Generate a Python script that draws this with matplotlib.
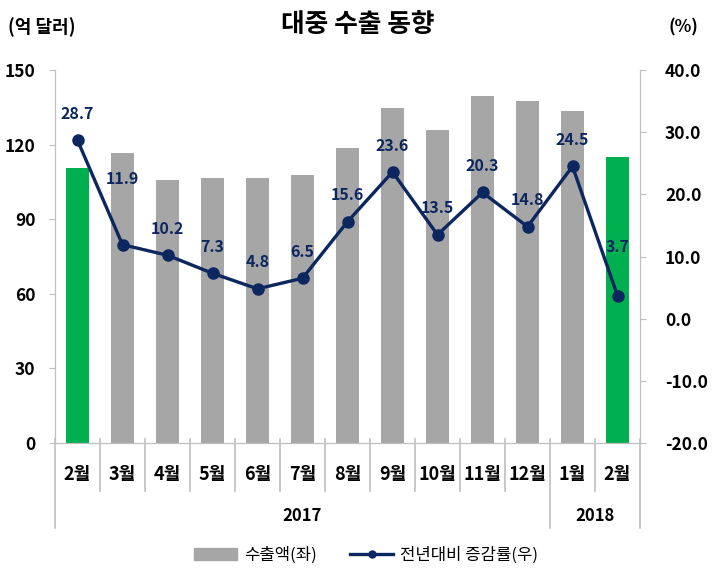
import numpy as np
import matplotlib
matplotlib.use("Agg")
import matplotlib.pyplot as plt
from matplotlib.lines import Line2D
from matplotlib.patches import Patch

plt.rcParams["font.family"] = ["Noto Sans CJK KR", "DejaVu Sans"]

# data
months = ["2월", "3월", "4월", "5월", "6월", "7월", "8월", "9월", "10월", "11월", "12월", "1월", "2월"]
exports = [110.6, 116.6, 105.8, 106.5, 106.5, 107.8, 118.6, 134.7, 125.9, 139.5, 137.5, 133.5, 115.0]
growth = [28.7, 11.9, 10.2, 7.3, 4.8, 6.5, 15.6, 23.6, 13.5, 20.3, 14.8, 24.5, 3.7]
years = ["2017", "2018"]
year_spans = [(0, 10), (11, 12)]
highlight = [0, 12]

GRAY = "#A6A6A6"
GREEN = "#00B050"
NAVY = "#0C2660"
AXC = "#BFBFBF"

fig = plt.figure(figsize=(7.14, 5.82), dpi=100)
ax = fig.add_axes([55 / 714, 139 / 582, 585 / 714, 373 / 582])
x = np.arange(len(months))
colors = [GREEN if i in highlight else GRAY for i in x]
ax.bar(x, exports, width=0.5, color=colors, zorder=2)
ax.set_xlim(-0.5, len(months) - 0.5)
ax.set_ylim(0, 150)
ax.set_yticks([0, 30, 60, 90, 120, 150])
ax.set_xticks([])

ax2 = ax.twinx()
ax2.plot(x, growth, color=NAVY, lw=2.4, marker="o", ms=8, zorder=3)
ax2.set_ylim(-20, 40)
ax2.set_yticks([-20, -10, 0, 10, 20, 30, 40])
ax2.set_yticklabels([f"{v:.1f}" for v in [-20, -10, 0, 10, 20, 30, 40]])

for a in (ax, ax2):
    a.spines["top"].set_visible(False)
    for s in ("left", "right", "bottom"):
        a.spines[s].set_color(AXC)
    a.tick_params(axis="y", colors=AXC, length=4, labelcolor="black", labelsize=12.5)
    for lab in a.get_yticklabels():
        lab.set_fontweight("bold")
ax.tick_params(axis="y", pad=10)
ax2.tick_params(axis="y", pad=14)

# label offsets (points) as placed in the reference
offsets = [19, 47, 19, 19, 19, 19, 19, 19, 19, 19, 19, 19, 35]
for i, v in enumerate(growth):
    ax2.annotate(f"{v}", (i, v), xytext=(0, offsets[i]), textcoords="offset points",
                 ha="center", va="center", fontsize=11.5, fontweight="bold", color=NAVY)

# category separators below the axis
trans = ax.get_xaxis_transform()
for b in np.arange(len(months) + 1) - 0.5:
    long = b in (-0.5, 10.5, 12.5)
    ax.plot([b, b], [0.012, -0.228 if long else -0.128], transform=trans,
            color=AXC, lw=1.2, clip_on=False)
for i, m in enumerate(months):
    ax.text(i, -0.085, m, transform=trans, ha="center", va="center",
            fontsize=13, fontweight="bold")
for yr, (a0, a1) in zip(years, year_spans):
    ax.text((a0 + a1) / 2, -0.195, yr, transform=trans, ha="center", va="center",
            fontsize=12, fontweight="bold")

fig.text(358 / 714, 1 - 25 / 582, "대중 수출 동향", ha="center", va="center",
         fontsize=18.5, fontweight="bold")
fig.text(8 / 714, 1 - 27 / 582, "(억 달러)", ha="left", va="center",
         fontsize=13, fontweight="bold")
fig.text(698 / 714, 1 - 27 / 582, "(%)", ha="right", va="center",
         fontsize=12.5, fontweight="bold")

handles = [Patch(color=GRAY),
           Line2D([0], [0], color=NAVY, lw=2.4, marker="o", ms=5)]
fig.legend(handles, ["수출액(좌)", "전년대비 증감률(우)"], loc="center",
           bbox_to_anchor=(366 / 714, 1 - 555 / 582), ncol=2, frameon=False,
           fontsize=12, handlelength=2.6, handletextpad=0.4, columnspacing=2.0)

fig.savefig("out.png", dpi=100)
